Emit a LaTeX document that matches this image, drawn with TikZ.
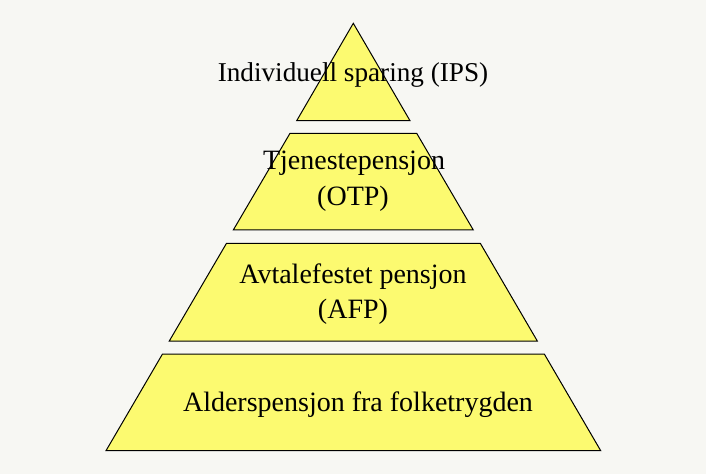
\documentclass[tikz,border=0pt]{standalone}
\usepackage{fontspec}
\setmainfont{Liberation Serif}
\definecolor{bgc}{RGB}{247,247,243}
\definecolor{tier}{RGB}{252,250,112}
\tikzset{
  tierbox/.style={fill=tier, draw=black, line width=1pt, line join=miter},
  lbl/.style={anchor=base, inner sep=0pt, font=\fontsize{28}{33}\selectfont, text=black}
}
\begin{document}
\begin{tikzpicture}[x=1pt,y=1pt]
\fill[bgc] (0,0) rectangle (706,474);
\useasboundingbox (0,0) rectangle (706,474);
% tiers (y measured from top: y_tikz = 474 - y_px)
\draw[tierbox] (353.3,450.7) -- (410.0,353.3) -- (296.7,353.3) -- cycle;
\draw[tierbox] (290.0,340.7) -- (416.7,340.7) -- (473.3,244.0) -- (233.3,244.0) -- cycle;
\draw[tierbox] (226.5,230.7) -- (480.3,230.7) -- (537.3,133.0) -- (169.3,133.0) -- cycle;
\draw[tierbox] (162.5,120.0) -- (544.3,120.0) -- (600.7,23.3) -- (106.0,23.3) -- cycle;
% labels
\node[lbl, font=\fontsize{27.2}{32}\selectfont] (ips) at (353,392.3) {Individuell sparing (IPS)};
\node[lbl] (otp1) at (354,304) {Tjenestepensjon};
\node[lbl] (otp2) at (353,268.5) {(OTP)};
\node[lbl] (afp1) at (353,190.7) {Avtalefestet pensjon};
\node[lbl] (afp2) at (353,156) {(AFP)};
\node[lbl] (alder) at (358,62.3) {Alderspensjon fra folketrygden};
\end{tikzpicture}
\end{document}
